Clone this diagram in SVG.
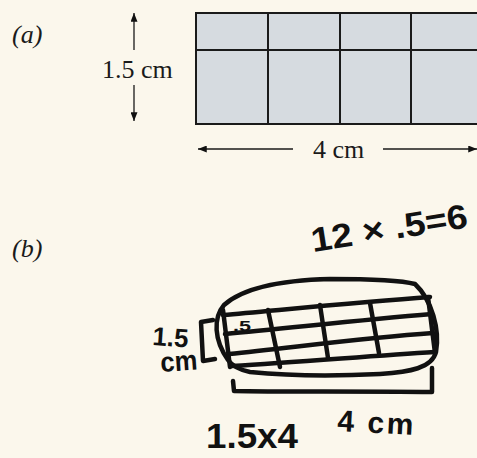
<svg xmlns="http://www.w3.org/2000/svg" width="477" height="458" viewBox="0 0 477 458">
<defs>
<marker id="ah" viewBox="0 0 10 8" refX="10" refY="4" markerWidth="9" markerHeight="7" markerUnits="userSpaceOnUse" orient="auto">
<path d="M0,0 L10,4 L0,8 z" fill="#111"/>
</marker>
</defs>
<style>
.serif{font-family:"Liberation Serif","Times New Roman",serif;font-size:26px;fill:#1a1a1a}
.ital{font-style:italic}
.cell{fill:#d6dbe0;stroke:#1a1a1a;stroke-width:2}
.gl{stroke:#1a1a1a;stroke-width:2;fill:none}
.dim{stroke:#1a1a1a;stroke-width:1.3;fill:none;marker-end:url(#ah)}
.ink{stroke:#111;stroke-width:4.5;fill:none;stroke-linecap:round;stroke-linejoin:round}
.hand{font-family:"Liberation Sans","DejaVu Sans",sans-serif;font-weight:bold;fill:#111}
</style>
<rect width="477" height="458" fill="#fbf7ec"/>
<g id="label-a"><text class="serif ital" x="12" y="43">(a)</text></g>
<g id="grid-a">
<rect class="cell" x="196" y="13" width="290" height="111"/>
<path class="gl" d="M196,50 H486 M268,13 V124 M340,13 V124 M411,13 V124"/>
</g>
<g id="height-label"><text class="serif" x="102" y="78">1.5 cm</text></g>
<g id="width-label"><text class="serif" x="313" y="158">4 cm</text></g>
<g id="connectors">
<line class="dim" x1="134" y1="50" x2="134" y2="13"/>
<line class="dim" x1="134" y1="85" x2="134" y2="121"/>
<line class="dim" x1="293" y1="149" x2="198" y2="149"/>
<line class="dim" x1="383" y1="149" x2="477" y2="149"/>
</g>
<g id="label-b"><text class="serif ital" x="12" y="257">(b)</text></g>
<g id="sketch-b">
<path class="ink" d="M228,360 C214,340 213,318 224,305 C245,286 290,280 330,279 C370,279 400,280 415,284 C432,300 440,330 436,352 C432,368 410,372 380,374 C340,376 290,376 250,372 C240,370 233,367 228,360"/>
<path class="ink" d="M223,315 C280,310 360,302 430,297"/>
<path class="ink" d="M225,334 C290,328 360,320 432,314"/>
<path class="ink" d="M229,354 C290,348 360,338 433,333"/>
<path class="ink" d="M232,366 C300,362 370,356 435,352"/>
<path class="ink" d="M223,310 L230,367 M268,310 L280,367 M320,305 L328,358 M370,303 L379,353 M428,297 L435,353"/>
<path class="ink" d="M233,381 L234,391 C280,392 360,391 432,392 L432,368"/>
<path class="ink" d="M213,320 L201,322 L203,361 L215,359"/>
</g>
<g id="hand-texts">
<text class="hand" x="313" y="252" font-size="34" textLength="158" lengthAdjust="spacingAndGlyphs" transform="rotate(-9 313 252)">12 × .5=6</text>
<text class="hand" x="233" y="331" font-size="15" textLength="18" lengthAdjust="spacingAndGlyphs">.5</text>
<text class="hand" x="152" y="345" font-size="26" textLength="36" lengthAdjust="spacingAndGlyphs" transform="rotate(4 152 345)">1.5</text>
<text class="hand" x="161" y="372" font-size="28" textLength="37" lengthAdjust="spacingAndGlyphs" transform="rotate(-4 161 372)">cm</text>
<text class="hand" x="337" y="431" font-size="30" textLength="76" lengthAdjust="spacing" transform="rotate(3 337 431)">4 cm</text>
<text class="hand" x="206" y="448" font-size="35" textLength="92" lengthAdjust="spacingAndGlyphs">1.5x4</text>
</g>
</svg>
